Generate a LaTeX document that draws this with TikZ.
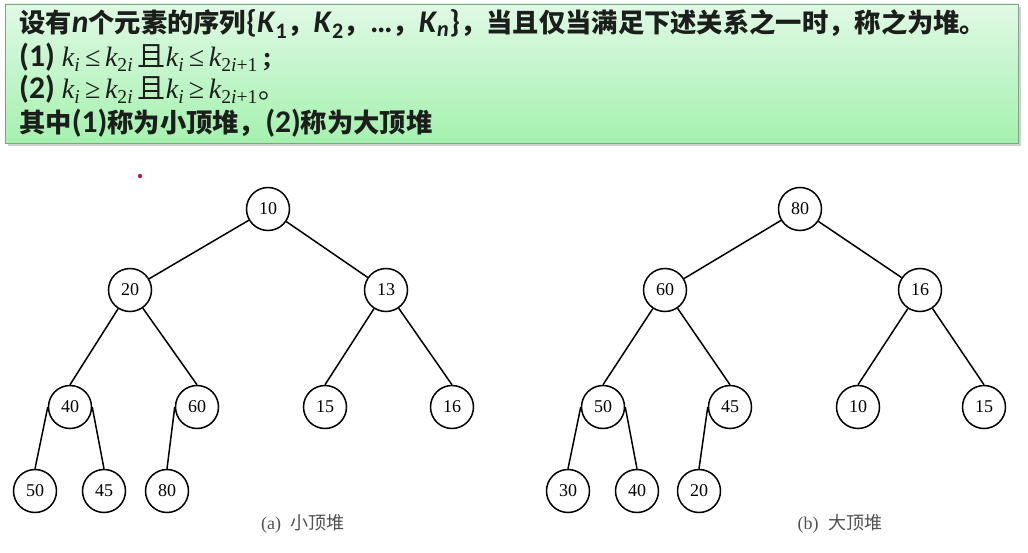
\documentclass[tikz,border=0pt]{standalone}
\usepackage{fontspec}
\setmainfont{Carlito}[Scale=1.2]
\newfontfamily\cjk{Noto Sans CJK SC}
\newfontfamily\tms{Liberation Serif}
\definecolor{boxtop}{RGB}{224,249,229}
\definecolor{boxbot}{RGB}{164,241,174}
\definecolor{boxline}{RGB}{125,165,130}
\definecolor{textdark}{RGB}{28,30,28}
\definecolor{capgray}{RGB}{80,80,80}
\definecolor{reddot}{RGB}{200,20,80}
\newcommand\kv[1]{{\tms\mdseries\itshape k}\textsubscript{\tms\mdseries #1}}
\newcommand\rel[1]{{\tms\mdseries\,#1\,}}
\newcommand\fml[1]{{\fontsize{28}{30}\selectfont #1}}
\newcommand\cjs[1]{\smash{\cjk\mdseries #1}}
\begin{document}
\begin{tikzpicture}
[x=1pt,y=-1pt,
 hp/.style={shape=circle,draw,line width=1.5pt,minimum size=43pt,inner sep=0pt,
   font=\tms\fontsize{18}{18}\selectfont},
 edge/.style={line width=1.5pt},
 txt/.style={anchor=base west,inner sep=0pt,text=textdark,
   font=\bfseries\fontsize{26.3}{30}\selectfont},
 captext/.style={inner sep=0pt,text=capgray,font=\tms\fontsize{18}{18}\selectfont}]
\useasboundingbox (0,0) rectangle (1028,553);
% green box
\fill[black!40,opacity=0.45] (8,7) rectangle (1021,146);
\shade[top color=boxtop,bottom color=boxbot,draw=boxline,line width=0.8pt]
  (5,4) rectangle (1018,143);
\node[txt] (l1) at (19,33) {{\cjk\bfseries 设有}\textit{n}{\cjk\bfseries 个元素的序列}\{\textit{K}\textsubscript{1}{\cjk\bfseries ，}\textit{K}\textsubscript{2}{\cjk\bfseries ，}…{\cjk\bfseries ，}\textit{K}\textsubscript{\textit{n}}\}{\cjk\bfseries ，当且仅当满足下述关系之一时，称之为堆。}};
\node[txt] (l2) at (19,67) {(1) \fml{\kv{\textit{i}}\rel{≤}\kv{2\textit{i}}\cjs{\,且}\kv{\textit{i}}\rel{≤}\kv{2\textit{i}+1}{\tms\bfseries\,;}}};
\node[txt] (l3) at (19,99) {(2) \fml{\kv{\textit{i}}\rel{≥}\kv{2\textit{i}}\cjs{\,且}\kv{\textit{i}}\rel{≥}\kv{2\textit{i}+1}\cjs{。}}};
\node[txt] (l4) at (19,133) {{\cjk\bfseries 其中}(1){\cjk\bfseries 称为小顶堆，}(2){\cjk\bfseries 称为大顶堆}};
% pointer dot
\fill[reddot] (140,176) circle (2.2);
% (a) small top heap
\path (268,209) node (a10) [hp] {10}
( 130,290) node (a20) [hp] {20}
( 386,290) node (a13) [hp] {13}
(  70,407) node (a40) [hp] {40}
( 197,407) node (a60) [hp] {60}
( 325,407) node (a15) [hp] {15}
( 452,407) node (a16) [hp] {16}
(  35,491) node (a50) [hp] {50}
( 104,491) node (a45) [hp] {45}
( 167,491) node (a80) [hp] {80};
\draw [edge] (a10) -- (a20);
\draw [edge] (a10) -- (a13);
\draw [edge] (a20) -- (a40.north);
\draw [edge] (a20) -- (a60.north);
\draw [edge] (a13) -- (a15.north);
\draw [edge] (a13) -- (a16.north);
\draw [edge] (a40.west) -- (a50.north);
\draw [edge] (a40.east) -- (a45.north);
\draw [edge] (a60.west) -- (a80.north);
\node[captext] (capa) at (303,524) {(a)\hspace{10pt}{\cjk 小顶堆}};
% (b) big top heap
\path (800,209) node (b80) [hp] {80}
( 665,290) node (b60) [hp] {60}
( 920,290) node (b16) [hp] {16}
( 603,407) node (b50) [hp] {50}
( 730,407) node (b45) [hp] {45}
( 858,407) node (b10) [hp] {10}
( 984,407) node (b15) [hp] {15}
( 568,491) node (b30) [hp] {30}
( 637,491) node (b40) [hp] {40}
( 699,491) node (b20) [hp] {20};
\draw [edge] (b80) -- (b60);
\draw [edge] (b80) -- (b16);
\draw [edge] (b60) -- (b50.north);
\draw [edge] (b60) -- (b45.north);
\draw [edge] (b16) -- (b10.north);
\draw [edge] (b16) -- (b15.north);
\draw [edge] (b50.west) -- (b30.north);
\draw [edge] (b50.east) -- (b40.north);
\draw [edge] (b45.west) -- (b20.north);
\node[captext] (capb) at (840,524) {(b)\hspace{10pt}{\cjk 大顶堆}};
\end{tikzpicture}
\end{document}
